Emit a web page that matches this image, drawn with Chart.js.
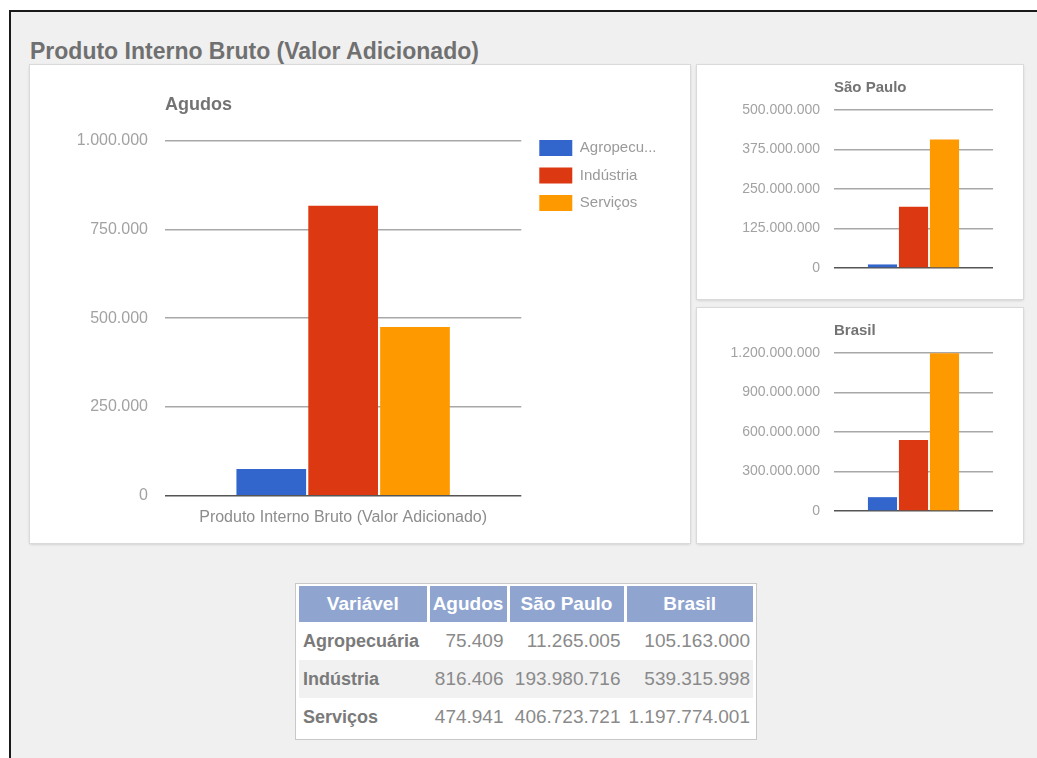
<!DOCTYPE html>
<html>
<head>
<meta charset="utf-8">
<script src="https://cdn.jsdelivr.net/npm/chart.js@4"></script>
<style>
  html, body { margin: 0; overflow: hidden; }
  body { background: #fff; font-family: "Liberation Sans", Arial, sans-serif; width: 1037px; height: 758px; }
  #page { position: absolute; left: 9px; top: 10px; width: 1040px; height: 760px;
    border-left: 2px solid #1a1a1a; border-top: 2px solid #1a1a1a; background: #f0f0f0; }
  #page-title { position: absolute; left: 30px; top: 37px; font-size: 23px; line-height: 28px;
    font-weight: bold; color: #707070; white-space: nowrap; }
  .panel { position: absolute; background: #fff;
    box-shadow: 0 0 0 1px #dadada, 0 1px 3px rgba(0,0,0,0.22); }
  .panel canvas { position: absolute; left: 0; top: 0; }
  #tbl-wrap { position: absolute; left: 295px; top: 583px; border: 1px solid #c8c8c8;
    background: #fff; padding: 2px 3px 3px 3px; }
  #tbl { border-collapse: collapse; table-layout: fixed; font-size: 19px; color: #8a8a8a; }
  #tbl th { background: #8fa5cf; color: #fff; font-weight: bold; height: 36px; padding: 0;
    text-align: center; border-right: 3px solid #fff; white-space: nowrap; overflow: hidden; }
  #tbl th:last-child { border-right: 0; }
  #tbl td { height: 38px; padding: 0 3px 0 0; text-align: right; white-space: nowrap;
    border-right: 3px solid transparent; }
  #tbl td:last-child { border-right: 0; }
  #tbl td:first-child { text-align: left; font-weight: bold; font-size: 18px; color: #7a7a7a; padding-left: 4px; }
  #tbl tr.alt td { background: #f1f1f1; }
</style>
</head>
<body>
<div id="page"></div>
<div id="page-title">Produto Interno Bruto (Valor Adicionado)</div>

<div class="panel" style="left:30px;top:65px;width:660px;height:478px;">
  <canvas id="chart-agudos" width="660" height="478"></canvas>
</div>
<div class="panel" style="left:697px;top:65px;width:326px;height:234px;">
  <canvas id="chart-sp" width="326" height="234"></canvas>
</div>
<div class="panel" style="left:697px;top:308px;width:326px;height:235px;">
  <canvas id="chart-br" width="326" height="235"></canvas>
</div>

<div id="tbl-wrap"><table id="tbl"></table></div>

<script>
// === dados ===
var variavel = ['Agropecuária', 'Indústria', 'Serviços'];
var cores = ['#3366cc', '#dc3912', '#ff9900'];
var grupo = ['Produto Interno Bruto (Valor Adicionado)'];
var locais = ['Agudos', 'São Paulo', 'Brasil'];

var agudos = [75409, 816406, 474941];
var saoPaulo = [11265005, 193980716, 406723721];
var brasil = [105163000, 539315998, 1197774001];

var ticksAgudos = [0, 250000, 500000, 750000, 1000000];
var ticksSaoPaulo = [0, 125000000, 250000000, 375000000, 500000000];
var ticksBrasil = [0, 300000000, 600000000, 900000000, 1200000000];

function fmt(v) {
  return String(v).replace(/\B(?=(\d{3})+(?!\d))/g, '.');
}

// move the legend box after layout (Chart.js has no offset option for it)
var legendShift = {
  id: 'legendShift',
  afterLayout: function(chart, args, opts) {
    var lg = chart.legend;
    if (!lg || !opts) return;
    lg.left += opts.x || 0; lg.right += opts.x || 0;
    lg.top += opts.y || 0; lg.bottom += opts.y || 0;
  }
};

function makeDatasets(values) {
  return variavel.map(function(name, i) {
    return { label: name, data: [values[i]], backgroundColor: cores[i], borderWidth: 0 };
  });
}

function yScale(ticks, s) {
  return {
    min: ticks[0],
    max: ticks[ticks.length - 1],
    afterBuildTicks: function(scale) {
      scale.ticks = ticks.map(function(v) { return { value: v }; });
    },
    afterFit: function(scale) { scale.width = s.axisWidth; },
    border: { display: false },
    grid: {
      drawTicks: false,
      lineWidth: 1.5,
      color: function(ctx) { return ctx.tick && ctx.tick.value === 0 ? '#555' : '#a8a8a8'; }
    },
    ticks: {
      padding: s.tickPad,
      color: '#a2a2a2',
      font: { size: s.tickSize },
      callback: function(v) { return fmt(v); }
    }
  };
}

function makeChart(id, title, values, ticks, s) {
  var ctx = document.getElementById(id).getContext('2d');
  return new Chart(ctx, {
    type: 'bar',
    data: { labels: grupo, datasets: makeDatasets(values) },
    plugins: [legendShift],
    options: {
      responsive: false,
      animation: false,
      categoryPercentage: s.catPct,
      barPercentage: s.barPct,
      layout: { padding: s.pad },
      plugins: {
        tooltip: { enabled: false },
        title: {
          display: true,
          text: title,
          align: 'start',
          fullSize: false,
          color: '#737373',
          font: { size: s.titleSize, weight: 'bold' },
          padding: s.titlePad
        },
        legend: s.legend ? {
          display: true,
          position: 'right',
          align: 'start',
          labels: {
            boxWidth: 33,
            boxHeight: 16,
            padding: 11.5,
            color: '#9a9a9a',
            font: { size: 15 },
            generateLabels: function(chart) {
              return chart.data.datasets.map(function(ds, i) {
                var t = ds.label.length > 10 ? ds.label.substring(0, 8) + '...' : ds.label;
                return { text: t, fillStyle: ds.backgroundColor, strokeStyle: ds.backgroundColor,
                  lineWidth: 0, datasetIndex: i, fontColor: '#9a9a9a' };
              });
            }
          }
        } : { display: false },
        legendShift: s.legend ? { x: 6.5, y: 63.5 } : { x: 0, y: 0 }
      },
      scales: {
        x: {
          display: s.xLabels,
          border: { display: false },
          grid: { display: false, drawTicks: false },
          ticks: { padding: 12, color: '#8c8c8c', font: { size: 16 } }
        },
        y: yScale(ticks, s)
      }
    }
  });
}

Chart.defaults.font.family = '"Liberation Sans", Arial, sans-serif';

makeChart('chart-agudos', locais[0], agudos, ticksAgudos, {
  axisWidth: 135, tickPad: 17, tickSize: 16, titleSize: 18,
  titlePad: { top: 29, bottom: 25 },
  pad: { top: 0, left: 0, right: 30, bottom: 4 },
  catPct: 0.605, barPct: 0.97, legend: true, xLabels: true
});

makeChart('chart-sp', locais[1], saoPaulo, ticksSaoPaulo, {
  axisWidth: 137, tickPad: 14, tickSize: 14, titleSize: 15,
  titlePad: { top: 14, bottom: 13 },
  pad: { top: 0, left: 0, right: 30, bottom: 31 },
  catPct: 0.585, barPct: 0.94, legend: false, xLabels: false
});

makeChart('chart-br', locais[2], brasil, ticksBrasil, {
  axisWidth: 137, tickPad: 14, tickSize: 14, titleSize: 15,
  titlePad: { top: 14, bottom: 13 },
  pad: { top: 0, left: 0, right: 30, bottom: 32 },
  catPct: 0.585, barPct: 0.94, legend: false, xLabels: false
});

// === tabela ===
function renderTable() {
  var widths = [126, 77, 114, 128];
  var html = '<colgroup>';
  widths.forEach(function(w, i) {
    html += '<col style="width:' + (w + (i < widths.length - 1 ? 3 : 0)) + 'px">';
  });
  html += '</colgroup><tr><th>Variável</th>';
  locais.forEach(function(l) { html += '<th>' + l + '</th>'; });
  html += '</tr>';
  var cols = [agudos, saoPaulo, brasil];
  variavel.forEach(function(v, r) {
    html += '<tr' + (r % 2 === 1 ? ' class="alt"' : '') + '><td>' + v + '</td>';
    cols.forEach(function(c) { html += '<td>' + fmt(c[r]) + '</td>'; });
    html += '</tr>';
  });
  document.getElementById('tbl').innerHTML = html;
}
renderTable();
</script>
</body>
</html>
